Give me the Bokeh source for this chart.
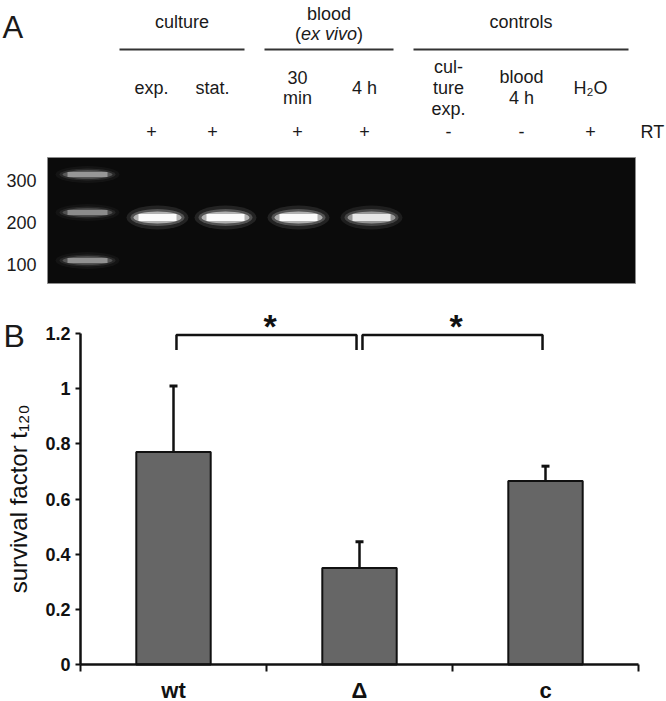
from bokeh.plotting import figure
from bokeh.models import Range1d, FixedTicker, NumeralTickFormatter, LinearAxis
from bokeh.embed import file_html
from bokeh.resources import INLINE
from bokeh.core.properties import value

FONT = "Liberation Sans"

# ---------------- Panel A data ----------------
group_names = ["culture", "blood", "controls"]
group_sub = ["", "ex vivo", ""]
lane_labels = [["exp."], ["stat."], ["30", "min"], ["4 h"],
               ["cul-", "ture", "exp."], ["blood", "4 h"], ["H₂O"]]
rt_signs = ["+", "+", "+", "+", "-", "-", "+"]
band_intensity = [1.0, 1.0, 1.0, 0.8, 0.0, 0.0, 0.0]
ladder_bp = ["300", "200", "100"]
ladder_intensity = [0.40, 0.36, 0.38]

# ---------------- Panel B data ----------------
strains = ["wt", "Δ", "c"]
survival = [0.77, 0.35, 0.665]
survival_err = [0.24, 0.095, 0.054]
sig_pairs = [(0, 1), (1, 2)]
sig_labels = ["*", "*"]
y_ticks = [0, 0.2, 0.4, 0.6, 0.8, 1.0, 1.2]
y_max = 1.2

# ---------------- layout (page pixel space) ----------------
VIEW_X = (0, 666)
VIEW_Y = (0, 701)
AX_X = (80, 638)      # pixel ends of the x axis
AX_Y = (664, 333)     # pixel of y = 0 and y = y_max

group_span = [(119, 244), (264, 393), (413, 628)]
lane_x = [151, 212, 297, 364, 448, 521, 590]
band_x = [157, 225, 298, 371, 448, 521, 590]
ladder_y = [174, 212, 260]
ladder_label_y = [180, 222, 264]
band_y = 217
# (glyph, extra width, height, alpha)
LAYERS = [("ellipse", 16, 24, 0.10), ("ellipse", 8, 17, 0.22),
          ("ellipse", 2, 12, 0.55), ("rect", -8, 7, 0.95)]

n = len(strains)
ppx = (AX_X[1] - AX_X[0]) / n
ppy = (AX_Y[0] - AX_Y[1]) / y_max
x_range = Range1d((VIEW_X[0] - AX_X[0]) / ppx, (VIEW_X[1] - AX_X[0]) / ppx)
y_range = Range1d((AX_Y[0] - VIEW_Y[1]) / ppy, (AX_Y[0] - VIEW_Y[0]) / ppy)

p = figure(width=VIEW_X[1] - VIEW_X[0], height=VIEW_Y[1] - VIEW_Y[0],
           x_range=x_range, y_range=y_range, x_axis_location=None, y_axis_location=None,
           output_backend="svg", toolbar_location=None, min_border=0)
p.extra_x_ranges = {"px": Range1d(*VIEW_X)}
p.extra_y_ranges = {"px": Range1d(VIEW_Y[1], VIEW_Y[0])}
p.grid.visible = False
p.outline_line_color = None
TXT = "#1a1a1a"
PX = dict(x_range_name="px", y_range_name="px")


def txt(x, y, t, size="18px", align="center", baseline="middle", style="normal"):
    p.text(x=x, y=y, text=t, text_font=value(FONT), text_font_size=size,
           text_align=align, text_baseline=baseline, text_color=TXT,
           text_font_style=style, **PX)


# ---------------- Panel A ----------------
txt([2], [27], ["A"], size="31px", align="left", baseline="alphabetic")

for gi, name in enumerate(group_names):
    x0, x1 = group_span[gi]
    cx = (x0 + x1) / 2
    if group_sub[gi]:
        txt([cx], [13], [name])
        half = 28
        txt([cx], [33], [group_sub[gi]], style="italic")
        txt([cx - half], [33], ["("], align="right")
        txt([cx + half], [33], [")"], align="left")
    else:
        txt([cx], [21], [name])
p.segment(x0=[s[0] for s in group_span], x1=[s[1] for s in group_span],
          y0=49, y1=49, line_color="#333333", line_width=2, **PX)

for li, lines in enumerate(lane_labels):
    k_n = len(lines)
    for k, t in enumerate(lines):
        y = 87 + (k - (k_n - 1) / 2) * 21
        txt([lane_x[li]], [y], [t])

txt(lane_x, [131] * len(lane_x), rt_signs)
txt([640], [131], ["RT"], align="left")

p.quad(left=[47], right=[635], top=[157], bottom=[283], fill_color="#0b0b0b",
       line_color="#8c8c8c", line_width=1, **PX)
txt([36] * 3, ladder_label_y, ladder_bp, align="right")


def draw_bands(xs, ys, w, intens, hscale=1.0):
    for kind, dw, h, a in LAYERS:
        kw = dict(x=xs, y=ys, width=w + dw, height=h * hscale, fill_color="white",
                  fill_alpha=[a * i for i in intens], line_color=None, **PX)
        if kind == "ellipse":
            p.ellipse(**kw)
        else:
            p.rect(**kw)


draw_bands([87] * 3, ladder_y, 48, ladder_intensity, 0.7)
sx = [band_x[i] for i, v in enumerate(band_intensity) if v > 0]
si = [v for v in band_intensity if v > 0]
draw_bands(sx, [band_y] * len(sx), 46, si)

# ---------------- Panel B ----------------
txt([3], [335], ["B"], size="32px", align="left", baseline="alphabetic")

xs = [i + 0.5 for i in range(n)]
tops = [s + e for s, e in zip(survival, survival_err)]

p.vbar(x=xs, top=survival, width=0.4, fill_color="#666666", line_color="#111111",
       line_width=2)
p.segment(x0=xs, y0=survival, x1=xs, y1=tops, line_color="#111111", line_width=2.5)
p.scatter(x=xs, y=tops, marker="dash", size=8, line_color="#111111", line_width=3)

br_top, br_low, inset = 1.195, 1.14, 0.016
bxs, bys, stx = [], [], []
for (a, b) in sig_pairs:
    xa, xb = xs[a] + inset, xs[b] - inset
    bxs.append([xa, xa, xb, xb])
    bys.append([br_low, br_top, br_top, br_low])
    stx.append((xs[a] + xs[b]) / 2 + 0.02)
p.multi_line(xs=bxs, ys=bys, line_color="#111111", line_width=2.5)
p.text(x=stx, y=[br_top + 0.031] * len(stx), text=sig_labels, text_font=value(FONT),
       text_font_size="34px", text_font_style="bold", text_align="center",
       text_baseline="middle", text_color="#111111")

# y axis
ya = LinearAxis(fixed_location=0, bounds=(0, y_max))
ya.ticker = FixedTicker(ticks=y_ticks, minor_ticks=[])
ya.formatter = NumeralTickFormatter(format="0.[0]")
ya.major_tick_out = 5
ya.major_tick_in = 0
ya.major_tick_line_width = 2
ya.axis_line_width = 2.5
ya.axis_line_color = "#111111"
ya.major_tick_line_color = "#111111"
ya.major_label_text_font = FONT
ya.major_label_text_font_size = "18px"
ya.major_label_text_font_style = "bold"
ya.major_label_text_color = "#111111"
ya.major_label_standoff = 5
ya.axis_label = "survival factor t₁₂₀"
ya.axis_label_text_font = FONT
ya.axis_label_text_font_size = "24px"
ya.axis_label_text_font_style = "normal"
ya.axis_label_text_color = "#111111"
ya.axis_label_standoff = 10
p.add_layout(ya, "left")

# x axis
xa = LinearAxis(fixed_location=0, bounds=(0, n))
xa.ticker = FixedTicker(ticks=xs, minor_ticks=list(range(n + 1)))
xa.major_label_overrides = {x: s for x, s in zip(xs, strains)}
xa.major_tick_out = 0
xa.major_tick_in = 0
xa.minor_tick_out = 7
xa.minor_tick_in = 0
xa.minor_tick_line_width = 2
xa.minor_tick_line_color = "#111111"
xa.axis_line_width = 2.5
xa.axis_line_color = "#111111"
xa.major_label_text_font = FONT
xa.major_label_text_font_size = "22px"
xa.major_label_text_font_style = "bold"
xa.major_label_text_color = "#111111"
xa.major_label_standoff = 6
p.add_layout(xa, "below")

open("out.html", "w").write(file_html(p, INLINE))
